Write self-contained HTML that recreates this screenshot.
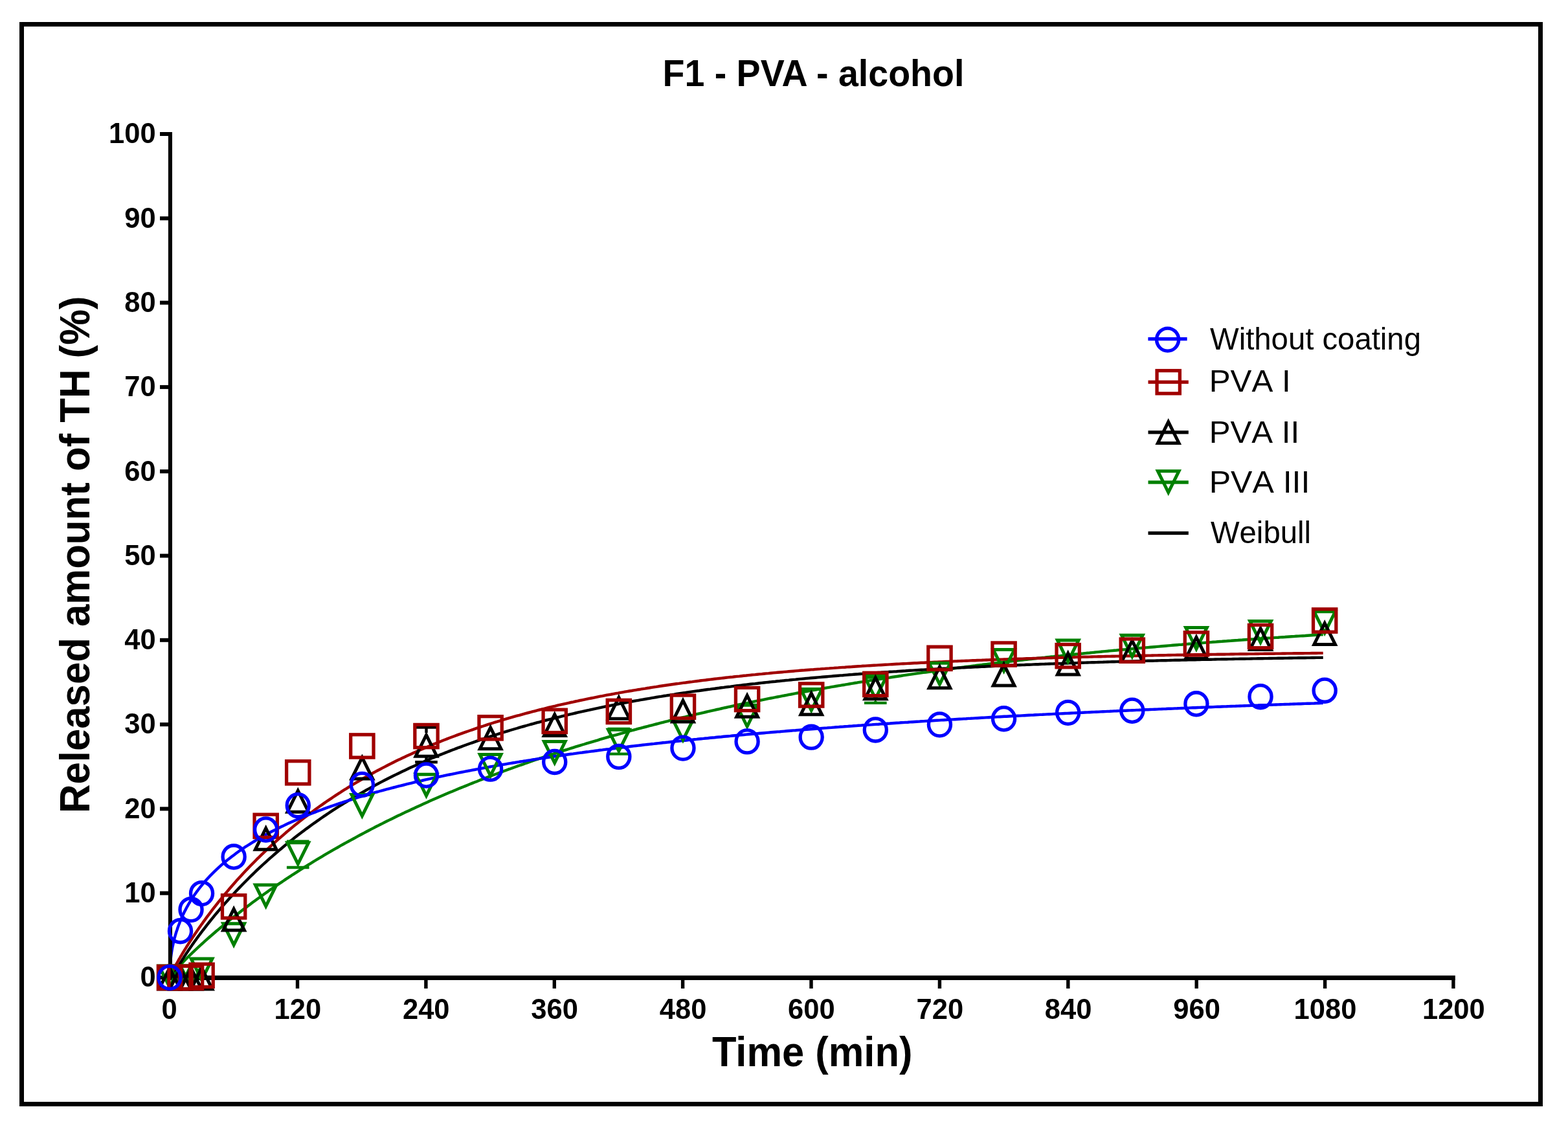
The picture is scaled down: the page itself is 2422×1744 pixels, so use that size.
<!DOCTYPE html>
<html lang="en"><head><meta charset="utf-8"><title>F1 - PVA - alcohol</title>
<style>html,body{margin:0;padding:0;background:#fff;width:2422px;height:1744px;overflow:hidden}svg{display:block}text{font-family:"Liberation Sans",Arial,sans-serif;fill:#000}</style></head><body>
<svg width="2422" height="1744" viewBox="0 0 2422 1744">
<rect width="2422" height="1744" fill="#fff"/>
<rect x="33.5" y="37.5" width="2346" height="1668" fill="none" stroke="#000" stroke-width="7"/>
<g id="curves">
<polyline points="262.0,1510.0 262.4,1509.3 262.8,1508.7 263.2,1508.2 263.7,1507.6 264.1,1507.1 264.5,1506.5 264.9,1506.0 265.3,1505.5 265.7,1505.0 266.1,1504.5 266.5,1504.0 267.0,1503.5 267.4,1503.0 267.8,1502.5 268.2,1502.0 268.6,1501.5 269.0,1501.0 269.4,1500.6 269.8,1500.1 270.3,1499.6 270.7,1499.1 271.1,1498.7 271.5,1498.2 271.9,1497.7 272.3,1497.3 272.7,1496.8 273.2,1496.4 273.6,1495.9 274.0,1495.5 274.4,1495.0 274.8,1494.6 275.2,1494.1 275.6,1493.7 276.0,1493.2 276.5,1492.8 276.9,1492.3 277.3,1491.9 277.7,1491.4 278.1,1491.0 278.5,1490.6 278.9,1490.1 279.3,1489.7 279.8,1489.2 280.2,1488.8 280.6,1488.4 281.0,1487.9 281.4,1487.5 281.8,1487.1 282.2,1486.7 282.6,1486.2 283.1,1485.8 283.5,1485.4 283.9,1485.0 284.3,1484.5 284.7,1484.1 285.1,1483.7 285.5,1483.3 286.0,1482.8 286.4,1482.4 286.8,1482.0 287.2,1481.6 287.6,1481.2 288.0,1480.8 288.4,1480.4 288.8,1479.9 289.3,1479.5 289.7,1479.1 290.1,1478.7 290.5,1478.3 290.9,1477.9 291.3,1477.5 291.7,1477.1 292.1,1476.7 292.6,1476.3 293.0,1475.9 293.4,1475.4 293.8,1475.0 294.2,1474.6 294.6,1474.2 295.0,1473.8 295.5,1473.4 295.9,1473.0 296.3,1472.6 296.7,1472.2 297.1,1471.8 297.5,1471.4 297.9,1471.0 298.3,1470.7 298.8,1470.3 299.2,1469.9 299.6,1469.5 300.0,1469.1 300.4,1468.7 300.8,1468.3 301.2,1467.9 301.6,1467.5 302.1,1467.1 302.5,1466.7 302.9,1466.3 303.3,1466.0 303.7,1465.6 304.1,1465.2 304.5,1464.8 305.0,1464.4 305.4,1464.0 305.8,1463.6 306.2,1463.3 306.6,1462.9 307.0,1462.5 307.4,1462.1 307.8,1461.7 308.3,1461.3 308.7,1461.0 309.1,1460.6 309.5,1460.2 309.9,1459.8 310.3,1459.4 310.7,1459.1 311.1,1458.7 311.6,1458.3 313.2,1456.8 316.7,1453.7 320.1,1450.6 323.6,1447.5 327.1,1444.5 330.6,1441.5 334.0,1438.5 337.5,1435.6 341.0,1432.7 344.4,1429.8 347.9,1427.0 351.4,1424.1 354.8,1421.3 358.3,1418.6 361.8,1415.8 365.2,1413.1 368.7,1410.4 372.2,1407.7 375.6,1405.0 379.1,1402.4 382.6,1399.8 386.0,1397.2 389.5,1394.6 393.0,1392.0 396.4,1389.5 399.9,1387.0 403.4,1384.5 406.8,1382.0 410.3,1379.5 413.8,1377.1 417.2,1374.6 420.7,1372.2 424.2,1369.8 427.7,1367.5 431.1,1365.1 434.6,1362.8 438.1,1360.5 441.5,1358.1 445.0,1355.9 448.5,1353.6 451.9,1351.3 455.4,1349.1 458.9,1346.8 462.3,1344.6 465.8,1342.4 469.3,1340.2 472.7,1338.1 476.2,1335.9 479.7,1333.8 483.1,1331.7 486.6,1329.5 490.1,1327.4 493.5,1325.4 497.0,1323.3 500.5,1321.2 503.9,1319.2 507.4,1317.2 510.9,1315.1 514.3,1313.1 517.8,1311.1 521.3,1309.2 524.8,1307.2 528.2,1305.2 531.7,1303.3 535.2,1301.4 538.6,1299.5 542.1,1297.6 545.6,1295.7 549.0,1293.8 552.5,1291.9 556.0,1290.0 559.4,1288.2 562.9,1286.4 566.4,1284.5 569.8,1282.7 573.3,1280.9 576.8,1279.1 580.2,1277.3 583.7,1275.6 587.2,1273.8 590.6,1272.1 594.1,1270.3 597.6,1268.6 601.0,1266.9 604.5,1265.2 608.0,1263.5 611.4,1261.8 614.9,1260.1 618.4,1258.5 621.9,1256.8 625.3,1255.1 628.8,1253.5 632.3,1251.9 635.7,1250.3 639.2,1248.7 642.7,1247.1 646.1,1245.5 649.6,1243.9 653.1,1242.3 656.5,1240.7 660.0,1239.2 663.5,1237.6 666.9,1236.1 670.4,1234.6 673.9,1233.1 677.3,1231.6 680.8,1230.1 684.3,1228.6 687.7,1227.1 691.2,1225.6 694.7,1224.1 698.1,1222.7 701.6,1221.2 705.1,1219.8 708.5,1218.3 712.0,1216.9 715.5,1215.5 719.0,1214.1 722.4,1212.7 725.9,1211.3 729.4,1209.9 732.8,1208.5 736.3,1207.2 739.8,1205.8 743.2,1204.4 746.7,1203.1 750.2,1201.7 753.6,1200.4 757.1,1199.1 760.6,1197.8 764.0,1196.5 767.5,1195.2 771.0,1193.9 774.4,1192.6 777.9,1191.3 781.4,1190.0 784.8,1188.7 788.3,1187.5 791.8,1186.2 795.2,1185.0 798.7,1183.7 802.2,1182.5 805.7,1181.3 809.1,1180.1 812.6,1178.8 816.1,1177.6 819.5,1176.4 823.0,1175.2 826.5,1174.0 829.9,1172.9 833.4,1171.7 836.9,1170.5 840.3,1169.4 843.8,1168.2 847.3,1167.1 850.7,1165.9 854.2,1164.8 857.7,1163.6 861.1,1162.5 864.6,1161.4 868.1,1160.3 871.5,1159.2 875.0,1158.1 878.5,1157.0 881.9,1155.9 885.4,1154.8 888.9,1153.7 892.3,1152.7 895.8,1151.6 899.3,1150.5 902.8,1149.5 906.2,1148.4 909.7,1147.4 913.2,1146.3 916.6,1145.3 920.1,1144.3 923.6,1143.3 927.0,1142.2 930.5,1141.2 934.0,1140.2 937.4,1139.2 940.9,1138.2 944.4,1137.2 947.8,1136.2 951.3,1135.3 954.8,1134.3 958.2,1133.3 961.7,1132.4 965.2,1131.4 968.6,1130.4 972.1,1129.5 975.6,1128.5 979.0,1127.6 982.5,1126.7 986.0,1125.7 989.4,1124.8 992.9,1123.9 996.4,1123.0 999.9,1122.1 1003.3,1121.2 1006.8,1120.3 1010.3,1119.4 1013.7,1118.5 1017.2,1117.6 1020.7,1116.7 1024.1,1115.8 1027.6,1114.9 1031.1,1114.1 1034.5,1113.2 1038.0,1112.3 1041.5,1111.5 1044.9,1110.6 1048.4,1109.8 1051.9,1108.9 1055.3,1108.1 1058.8,1107.3 1062.3,1106.4 1065.7,1105.6 1069.2,1104.8 1072.7,1104.0 1076.1,1103.2 1079.6,1102.4 1083.1,1101.6 1086.5,1100.8 1090.0,1100.0 1093.5,1099.2 1097.0,1098.4 1100.4,1097.6 1103.9,1096.8 1107.4,1096.0 1110.8,1095.3 1114.3,1094.5 1117.8,1093.7 1121.2,1093.0 1124.7,1092.2 1128.2,1091.5 1131.6,1090.7 1135.1,1090.0 1138.6,1089.2 1142.0,1088.5 1145.5,1087.7 1149.0,1087.0 1152.4,1086.3 1155.9,1085.6 1159.4,1084.8 1162.8,1084.1 1166.3,1083.4 1169.8,1082.7 1173.2,1082.0 1176.7,1081.3 1180.2,1080.6 1183.6,1079.9 1187.1,1079.2 1190.6,1078.5 1194.1,1077.8 1197.5,1077.2 1201.0,1076.5 1204.5,1075.8 1207.9,1075.1 1211.4,1074.5 1214.9,1073.8 1218.3,1073.1 1221.8,1072.5 1225.3,1071.8 1228.7,1071.2 1232.2,1070.5 1235.7,1069.9 1239.1,1069.2 1242.6,1068.6 1246.1,1068.0 1249.5,1067.3 1253.0,1066.7 1256.5,1066.1 1259.9,1065.5 1263.4,1064.8 1266.9,1064.2 1270.3,1063.6 1273.8,1063.0 1277.3,1062.4 1280.7,1061.8 1284.2,1061.2 1287.7,1060.6 1291.2,1060.0 1294.6,1059.4 1298.1,1058.8 1301.6,1058.2 1305.0,1057.7 1308.5,1057.1 1312.0,1056.5 1315.4,1055.9 1318.9,1055.3 1322.4,1054.8 1325.8,1054.2 1329.3,1053.6 1332.8,1053.1 1336.2,1052.5 1339.7,1052.0 1343.2,1051.4 1346.6,1050.9 1350.1,1050.3 1353.6,1049.8 1357.0,1049.2 1360.5,1048.7 1364.0,1048.2 1367.4,1047.6 1370.9,1047.1 1374.4,1046.6 1377.8,1046.0 1381.3,1045.5 1384.8,1045.0 1388.3,1044.5 1391.7,1044.0 1395.2,1043.4 1398.7,1042.9 1402.1,1042.4 1405.6,1041.9 1409.1,1041.4 1412.5,1040.9 1416.0,1040.4 1419.5,1039.9 1422.9,1039.4 1426.4,1038.9 1429.9,1038.5 1433.3,1038.0 1436.8,1037.5 1440.3,1037.0 1443.7,1036.5 1447.2,1036.0 1450.7,1035.6 1454.1,1035.1 1457.6,1034.6 1461.1,1034.2 1464.5,1033.7 1468.0,1033.2 1471.5,1032.8 1475.0,1032.3 1478.4,1031.9 1481.9,1031.4 1485.4,1030.9 1488.8,1030.5 1492.3,1030.0 1495.8,1029.6 1499.2,1029.2 1502.7,1028.7 1506.2,1028.3 1509.6,1027.8 1513.1,1027.4 1516.6,1027.0 1520.0,1026.5 1523.5,1026.1 1527.0,1025.7 1530.4,1025.3 1533.9,1024.8 1537.4,1024.4 1540.8,1024.0 1544.3,1023.6 1547.8,1023.2 1551.2,1022.8 1554.7,1022.3 1558.2,1021.9 1561.6,1021.5 1565.1,1021.1 1568.6,1020.7 1572.1,1020.3 1575.5,1019.9 1579.0,1019.5 1582.5,1019.1 1585.9,1018.7 1589.4,1018.3 1592.9,1018.0 1596.3,1017.6 1599.8,1017.2 1603.3,1016.8 1606.7,1016.4 1610.2,1016.0 1613.7,1015.7 1617.1,1015.3 1620.6,1014.9 1624.1,1014.5 1627.5,1014.2 1631.0,1013.8 1634.5,1013.4 1637.9,1013.1 1641.4,1012.7 1644.9,1012.3 1648.3,1012.0 1651.8,1011.6 1655.3,1011.3 1658.7,1010.9 1662.2,1010.5 1665.7,1010.2 1669.2,1009.8 1672.6,1009.5 1676.1,1009.1 1679.6,1008.8 1683.0,1008.5 1686.5,1008.1 1690.0,1007.8 1693.4,1007.4 1696.9,1007.1 1700.4,1006.8 1703.8,1006.4 1707.3,1006.1 1710.8,1005.8 1714.2,1005.4 1717.7,1005.1 1721.2,1004.8 1724.6,1004.5 1728.1,1004.1 1731.6,1003.8 1735.0,1003.5 1738.5,1003.2 1742.0,1002.8 1745.4,1002.5 1748.9,1002.2 1752.4,1001.9 1755.8,1001.6 1759.3,1001.3 1762.8,1001.0 1766.3,1000.7 1769.7,1000.4 1773.2,1000.1 1776.7,999.8 1780.1,999.5 1783.6,999.2 1787.1,998.9 1790.5,998.6 1794.0,998.3 1797.5,998.0 1800.9,997.7 1804.4,997.4 1807.9,997.1 1811.3,996.8 1814.8,996.5 1818.3,996.2 1821.7,995.9 1825.2,995.7 1828.7,995.4 1832.1,995.1 1835.6,994.8 1839.1,994.5 1842.5,994.3 1846.0,994.0 1849.5,993.7 1852.9,993.4 1856.4,993.2 1859.9,992.9 1863.4,992.6 1866.8,992.4 1870.3,992.1 1873.8,991.8 1877.2,991.6 1880.7,991.3 1884.2,991.0 1887.6,990.8 1891.1,990.5 1894.6,990.3 1898.0,990.0 1901.5,989.8 1905.0,989.5 1908.4,989.2 1911.9,989.0 1915.4,988.7 1918.8,988.5 1922.3,988.2 1925.8,988.0 1929.2,987.8 1932.7,987.5 1936.2,987.3 1939.6,987.0 1943.1,986.8 1946.6,986.5 1950.0,986.3 1953.5,986.1 1957.0,985.8 1960.5,985.6 1963.9,985.4 1967.4,985.1 1970.9,984.9 1974.3,984.7 1977.8,984.4 1981.3,984.2 1984.7,984.0 1988.2,983.7 1991.7,983.5 1995.1,983.3 1998.6,983.1 2002.1,982.8 2005.5,982.6 2009.0,982.4 2012.5,982.2 2015.9,982.0 2019.4,981.7 2022.9,981.5 2026.3,981.3 2029.8,981.1 2033.3,980.9 2036.7,980.7 2040.2,980.4 2043.7,980.2" fill="none" stroke="#008000" stroke-width="4.4" stroke-linejoin="round"/>
<polyline points="262.0,1510.0 262.4,1510.0 262.8,1510.0 263.2,1510.0 263.7,1510.0 264.1,1510.0 264.5,1510.0 264.9,1510.0 265.3,1510.0 265.7,1510.0 266.1,1509.7 266.5,1508.8 267.0,1507.9 267.4,1507.1 267.8,1506.3 268.2,1505.5 268.6,1504.7 269.0,1503.9 269.4,1503.1 269.8,1502.3 270.3,1501.6 270.7,1500.8 271.1,1500.1 271.5,1499.4 271.9,1498.6 272.3,1497.9 272.7,1497.2 273.2,1496.5 273.6,1495.8 274.0,1495.0 274.4,1494.3 274.8,1493.6 275.2,1492.9 275.6,1492.3 276.0,1491.6 276.5,1490.9 276.9,1490.2 277.3,1489.5 277.7,1488.8 278.1,1488.2 278.5,1487.5 278.9,1486.8 279.3,1486.1 279.8,1485.5 280.2,1484.8 280.6,1484.2 281.0,1483.5 281.4,1482.8 281.8,1482.2 282.2,1481.5 282.6,1480.9 283.1,1480.2 283.5,1479.6 283.9,1479.0 284.3,1478.3 284.7,1477.7 285.1,1477.0 285.5,1476.4 286.0,1475.8 286.4,1475.1 286.8,1474.5 287.2,1473.9 287.6,1473.3 288.0,1472.6 288.4,1472.0 288.8,1471.4 289.3,1470.8 289.7,1470.2 290.1,1469.5 290.5,1468.9 290.9,1468.3 291.3,1467.7 291.7,1467.1 292.1,1466.5 292.6,1465.9 293.0,1465.3 293.4,1464.7 293.8,1464.1 294.2,1463.5 294.6,1462.9 295.0,1462.3 295.5,1461.7 295.9,1461.1 296.3,1460.5 296.7,1459.9 297.1,1459.3 297.5,1458.7 297.9,1458.2 298.3,1457.6 298.8,1457.0 299.2,1456.4 299.6,1455.8 300.0,1455.2 300.4,1454.7 300.8,1454.1 301.2,1453.5 301.6,1452.9 302.1,1452.4 302.5,1451.8 302.9,1451.2 303.3,1450.6 303.7,1450.1 304.1,1449.5 304.5,1448.9 305.0,1448.4 305.4,1447.8 305.8,1447.2 306.2,1446.7 306.6,1446.1 307.0,1445.6 307.4,1445.0 307.8,1444.5 308.3,1443.9 308.7,1443.3 309.1,1442.8 309.5,1442.2 309.9,1441.7 310.3,1441.1 310.7,1440.6 311.1,1440.0 311.6,1439.5 313.2,1437.3 316.7,1432.8 320.1,1428.3 323.6,1424.0 327.1,1419.7 330.6,1415.4 334.0,1411.2 337.5,1407.1 341.0,1403.0 344.4,1399.0 347.9,1395.1 351.4,1391.2 354.8,1387.3 358.3,1383.5 361.8,1379.8 365.2,1376.0 368.7,1372.4 372.2,1368.8 375.6,1365.2 379.1,1361.7 382.6,1358.2 386.0,1354.8 389.5,1351.4 393.0,1348.0 396.4,1344.7 399.9,1341.4 403.4,1338.2 406.8,1335.0 410.3,1331.8 413.8,1328.7 417.2,1325.6 420.7,1322.6 424.2,1319.5 427.7,1316.5 431.1,1313.6 434.6,1310.7 438.1,1307.8 441.5,1304.9 445.0,1302.1 448.5,1299.3 451.9,1296.6 455.4,1293.8 458.9,1291.1 462.3,1288.5 465.8,1285.8 469.3,1283.2 472.7,1280.6 476.2,1278.1 479.7,1275.5 483.1,1273.0 486.6,1270.6 490.1,1268.1 493.5,1265.7 497.0,1263.3 500.5,1260.9 503.9,1258.6 507.4,1256.2 510.9,1253.9 514.3,1251.7 517.8,1249.4 521.3,1247.2 524.8,1245.0 528.2,1242.8 531.7,1240.6 535.2,1238.5 538.6,1236.4 542.1,1234.3 545.6,1232.2 549.0,1230.2 552.5,1228.1 556.0,1226.1 559.4,1224.1 562.9,1222.2 566.4,1220.2 569.8,1218.3 573.3,1216.4 576.8,1214.5 580.2,1212.6 583.7,1210.7 587.2,1208.9 590.6,1207.1 594.1,1205.3 597.6,1203.5 601.0,1201.7 604.5,1200.0 608.0,1198.3 611.4,1196.6 614.9,1194.9 618.4,1193.2 621.9,1191.5 625.3,1189.9 628.8,1188.3 632.3,1186.6 635.7,1185.0 639.2,1183.5 642.7,1181.9 646.1,1180.3 649.6,1178.8 653.1,1177.3 656.5,1175.8 660.0,1174.3 663.5,1172.8 666.9,1171.3 670.4,1169.9 673.9,1168.5 677.3,1167.0 680.8,1165.6 684.3,1164.2 687.7,1162.9 691.2,1161.5 694.7,1160.1 698.1,1158.8 701.6,1157.5 705.1,1156.1 708.5,1154.8 712.0,1153.6 715.5,1152.3 719.0,1151.0 722.4,1149.8 725.9,1148.5 729.4,1147.3 732.8,1146.1 736.3,1144.9 739.8,1143.7 743.2,1142.5 746.7,1141.3 750.2,1140.1 753.6,1139.0 757.1,1137.8 760.6,1136.7 764.0,1135.6 767.5,1134.5 771.0,1133.4 774.4,1132.3 777.9,1131.2 781.4,1130.2 784.8,1129.1 788.3,1128.0 791.8,1127.0 795.2,1126.0 798.7,1125.0 802.2,1123.9 805.7,1122.9 809.1,1122.0 812.6,1121.0 816.1,1120.0 819.5,1119.0 823.0,1118.1 826.5,1117.1 829.9,1116.2 833.4,1115.3 836.9,1114.3 840.3,1113.4 843.8,1112.5 847.3,1111.6 850.7,1110.8 854.2,1109.9 857.7,1109.0 861.1,1108.1 864.6,1107.3 868.1,1106.4 871.5,1105.6 875.0,1104.8 878.5,1103.9 881.9,1103.1 885.4,1102.3 888.9,1101.5 892.3,1100.7 895.8,1099.9 899.3,1099.2 902.8,1098.4 906.2,1097.6 909.7,1096.9 913.2,1096.1 916.6,1095.4 920.1,1094.6 923.6,1093.9 927.0,1093.2 930.5,1092.4 934.0,1091.7 937.4,1091.0 940.9,1090.3 944.4,1089.6 947.8,1089.0 951.3,1088.3 954.8,1087.6 958.2,1086.9 961.7,1086.3 965.2,1085.6 968.6,1085.0 972.1,1084.3 975.6,1083.7 979.0,1083.0 982.5,1082.4 986.0,1081.8 989.4,1081.2 992.9,1080.6 996.4,1080.0 999.9,1079.4 1003.3,1078.8 1006.8,1078.2 1010.3,1077.6 1013.7,1077.0 1017.2,1076.4 1020.7,1075.9 1024.1,1075.3 1027.6,1074.8 1031.1,1074.2 1034.5,1073.7 1038.0,1073.1 1041.5,1072.6 1044.9,1072.0 1048.4,1071.5 1051.9,1071.0 1055.3,1070.5 1058.8,1070.0 1062.3,1069.4 1065.7,1068.9 1069.2,1068.4 1072.7,1067.9 1076.1,1067.4 1079.6,1067.0 1083.1,1066.5 1086.5,1066.0 1090.0,1065.5 1093.5,1065.0 1097.0,1064.6 1100.4,1064.1 1103.9,1063.7 1107.4,1063.2 1110.8,1062.8 1114.3,1062.3 1117.8,1061.9 1121.2,1061.4 1124.7,1061.0 1128.2,1060.6 1131.6,1060.1 1135.1,1059.7 1138.6,1059.3 1142.0,1058.9 1145.5,1058.5 1149.0,1058.0 1152.4,1057.6 1155.9,1057.2 1159.4,1056.8 1162.8,1056.4 1166.3,1056.1 1169.8,1055.7 1173.2,1055.3 1176.7,1054.9 1180.2,1054.5 1183.6,1054.1 1187.1,1053.8 1190.6,1053.4 1194.1,1053.0 1197.5,1052.7 1201.0,1052.3 1204.5,1052.0 1207.9,1051.6 1211.4,1051.3 1214.9,1050.9 1218.3,1050.6 1221.8,1050.2 1225.3,1049.9 1228.7,1049.6 1232.2,1049.2 1235.7,1048.9 1239.1,1048.6 1242.6,1048.3 1246.1,1047.9 1249.5,1047.6 1253.0,1047.3 1256.5,1047.0 1259.9,1046.7 1263.4,1046.4 1266.9,1046.1 1270.3,1045.8 1273.8,1045.5 1277.3,1045.2 1280.7,1044.9 1284.2,1044.6 1287.7,1044.3 1291.2,1044.0 1294.6,1043.7 1298.1,1043.4 1301.6,1043.2 1305.0,1042.9 1308.5,1042.6 1312.0,1042.3 1315.4,1042.1 1318.9,1041.8 1322.4,1041.5 1325.8,1041.3 1329.3,1041.0 1332.8,1040.8 1336.2,1040.5 1339.7,1040.3 1343.2,1040.0 1346.6,1039.8 1350.1,1039.5 1353.6,1039.3 1357.0,1039.0 1360.5,1038.8 1364.0,1038.5 1367.4,1038.3 1370.9,1038.1 1374.4,1037.8 1377.8,1037.6 1381.3,1037.4 1384.8,1037.2 1388.3,1036.9 1391.7,1036.7 1395.2,1036.5 1398.7,1036.3 1402.1,1036.0 1405.6,1035.8 1409.1,1035.6 1412.5,1035.4 1416.0,1035.2 1419.5,1035.0 1422.9,1034.8 1426.4,1034.6 1429.9,1034.4 1433.3,1034.2 1436.8,1034.0 1440.3,1033.8 1443.7,1033.6 1447.2,1033.4 1450.7,1033.2 1454.1,1033.0 1457.6,1032.8 1461.1,1032.6 1464.5,1032.4 1468.0,1032.3 1471.5,1032.1 1475.0,1031.9 1478.4,1031.7 1481.9,1031.5 1485.4,1031.4 1488.8,1031.2 1492.3,1031.0 1495.8,1030.8 1499.2,1030.7 1502.7,1030.5 1506.2,1030.3 1509.6,1030.2 1513.1,1030.0 1516.6,1029.8 1520.0,1029.7 1523.5,1029.5 1527.0,1029.3 1530.4,1029.2 1533.9,1029.0 1537.4,1028.9 1540.8,1028.7 1544.3,1028.6 1547.8,1028.4 1551.2,1028.3 1554.7,1028.1 1558.2,1028.0 1561.6,1027.8 1565.1,1027.7 1568.6,1027.5 1572.1,1027.4 1575.5,1027.2 1579.0,1027.1 1582.5,1027.0 1585.9,1026.8 1589.4,1026.7 1592.9,1026.6 1596.3,1026.4 1599.8,1026.3 1603.3,1026.2 1606.7,1026.0 1610.2,1025.9 1613.7,1025.8 1617.1,1025.6 1620.6,1025.5 1624.1,1025.4 1627.5,1025.3 1631.0,1025.1 1634.5,1025.0 1637.9,1024.9 1641.4,1024.8 1644.9,1024.6 1648.3,1024.5 1651.8,1024.4 1655.3,1024.3 1658.7,1024.2 1662.2,1024.1 1665.7,1023.9 1669.2,1023.8 1672.6,1023.7 1676.1,1023.6 1679.6,1023.5 1683.0,1023.4 1686.5,1023.3 1690.0,1023.2 1693.4,1023.1 1696.9,1023.0 1700.4,1022.9 1703.8,1022.8 1707.3,1022.6 1710.8,1022.5 1714.2,1022.4 1717.7,1022.3 1721.2,1022.2 1724.6,1022.1 1728.1,1022.0 1731.6,1022.0 1735.0,1021.9 1738.5,1021.8 1742.0,1021.7 1745.4,1021.6 1748.9,1021.5 1752.4,1021.4 1755.8,1021.3 1759.3,1021.2 1762.8,1021.1 1766.3,1021.0 1769.7,1020.9 1773.2,1020.8 1776.7,1020.8 1780.1,1020.7 1783.6,1020.6 1787.1,1020.5 1790.5,1020.4 1794.0,1020.3 1797.5,1020.2 1800.9,1020.2 1804.4,1020.1 1807.9,1020.0 1811.3,1019.9 1814.8,1019.8 1818.3,1019.8 1821.7,1019.7 1825.2,1019.6 1828.7,1019.5 1832.1,1019.5 1835.6,1019.4 1839.1,1019.3 1842.5,1019.2 1846.0,1019.2 1849.5,1019.1 1852.9,1019.0 1856.4,1018.9 1859.9,1018.9 1863.4,1018.8 1866.8,1018.7 1870.3,1018.7 1873.8,1018.6 1877.2,1018.5 1880.7,1018.4 1884.2,1018.4 1887.6,1018.3 1891.1,1018.2 1894.6,1018.2 1898.0,1018.1 1901.5,1018.1 1905.0,1018.0 1908.4,1017.9 1911.9,1017.9 1915.4,1017.8 1918.8,1017.7 1922.3,1017.7 1925.8,1017.6 1929.2,1017.6 1932.7,1017.5 1936.2,1017.4 1939.6,1017.4 1943.1,1017.3 1946.6,1017.3 1950.0,1017.2 1953.5,1017.1 1957.0,1017.1 1960.5,1017.0 1963.9,1017.0 1967.4,1016.9 1970.9,1016.9 1974.3,1016.8 1977.8,1016.8 1981.3,1016.7 1984.7,1016.6 1988.2,1016.6 1991.7,1016.5 1995.1,1016.5 1998.6,1016.4 2002.1,1016.4 2005.5,1016.3 2009.0,1016.3 2012.5,1016.2 2015.9,1016.2 2019.4,1016.1 2022.9,1016.1 2026.3,1016.0 2029.8,1016.0 2033.3,1015.9 2036.7,1015.9 2040.2,1015.9 2043.7,1015.8" fill="none" stroke="#000000" stroke-width="4.4" stroke-linejoin="round"/>
<polyline points="262.0,1510.0 262.4,1508.9 262.8,1508.0 263.2,1507.1 263.7,1506.2 264.1,1505.3 264.5,1504.4 264.9,1503.6 265.3,1502.7 265.7,1501.9 266.1,1501.1 266.5,1500.3 267.0,1499.5 267.4,1498.7 267.8,1497.9 268.2,1497.1 268.6,1496.3 269.0,1495.5 269.4,1494.7 269.8,1494.0 270.3,1493.2 270.7,1492.4 271.1,1491.7 271.5,1490.9 271.9,1490.2 272.3,1489.4 272.7,1488.7 273.2,1487.9 273.6,1487.2 274.0,1486.5 274.4,1485.7 274.8,1485.0 275.2,1484.3 275.6,1483.5 276.0,1482.8 276.5,1482.1 276.9,1481.4 277.3,1480.7 277.7,1480.0 278.1,1479.3 278.5,1478.5 278.9,1477.8 279.3,1477.1 279.8,1476.4 280.2,1475.7 280.6,1475.1 281.0,1474.4 281.4,1473.7 281.8,1473.0 282.2,1472.3 282.6,1471.6 283.1,1470.9 283.5,1470.2 283.9,1469.6 284.3,1468.9 284.7,1468.2 285.1,1467.5 285.5,1466.9 286.0,1466.2 286.4,1465.5 286.8,1464.9 287.2,1464.2 287.6,1463.6 288.0,1462.9 288.4,1462.2 288.8,1461.6 289.3,1460.9 289.7,1460.3 290.1,1459.6 290.5,1459.0 290.9,1458.3 291.3,1457.7 291.7,1457.0 292.1,1456.4 292.6,1455.7 293.0,1455.1 293.4,1454.5 293.8,1453.8 294.2,1453.2 294.6,1452.6 295.0,1451.9 295.5,1451.3 295.9,1450.7 296.3,1450.0 296.7,1449.4 297.1,1448.8 297.5,1448.2 297.9,1447.5 298.3,1446.9 298.8,1446.3 299.2,1445.7 299.6,1445.1 300.0,1444.5 300.4,1443.8 300.8,1443.2 301.2,1442.6 301.6,1442.0 302.1,1441.4 302.5,1440.8 302.9,1440.2 303.3,1439.6 303.7,1439.0 304.1,1438.4 304.5,1437.8 305.0,1437.2 305.4,1436.6 305.8,1436.0 306.2,1435.4 306.6,1434.8 307.0,1434.2 307.4,1433.6 307.8,1433.0 308.3,1432.4 308.7,1431.8 309.1,1431.2 309.5,1430.7 309.9,1430.1 310.3,1429.5 310.7,1428.9 311.1,1428.3 311.6,1427.7 313.2,1425.4 316.7,1420.6 320.1,1415.9 323.6,1411.3 327.1,1406.7 330.6,1402.2 334.0,1397.8 337.5,1393.4 341.0,1389.1 344.4,1384.9 347.9,1380.7 351.4,1376.6 354.8,1372.5 358.3,1368.5 361.8,1364.5 365.2,1360.6 368.7,1356.8 372.2,1353.0 375.6,1349.2 379.1,1345.5 382.6,1341.9 386.0,1338.3 389.5,1334.7 393.0,1331.2 396.4,1327.7 399.9,1324.3 403.4,1320.9 406.8,1317.6 410.3,1314.3 413.8,1311.0 417.2,1307.8 420.7,1304.6 424.2,1301.5 427.7,1298.4 431.1,1295.3 434.6,1292.3 438.1,1289.3 441.5,1286.3 445.0,1283.4 448.5,1280.5 451.9,1277.6 455.4,1274.8 458.9,1272.0 462.3,1269.2 465.8,1266.5 469.3,1263.8 472.7,1261.2 476.2,1258.5 479.7,1255.9 483.1,1253.4 486.6,1250.8 490.1,1248.3 493.5,1245.8 497.0,1243.4 500.5,1240.9 503.9,1238.5 507.4,1236.1 510.9,1233.8 514.3,1231.5 517.8,1229.2 521.3,1226.9 524.8,1224.7 528.2,1222.4 531.7,1220.2 535.2,1218.1 538.6,1215.9 542.1,1213.8 545.6,1211.7 549.0,1209.6 552.5,1207.6 556.0,1205.5 559.4,1203.5 562.9,1201.5 566.4,1199.6 569.8,1197.6 573.3,1195.7 576.8,1193.8 580.2,1191.9 583.7,1190.0 587.2,1188.2 590.6,1186.4 594.1,1184.6 597.6,1182.8 601.0,1181.0 604.5,1179.3 608.0,1177.5 611.4,1175.8 614.9,1174.1 618.4,1172.5 621.9,1170.8 625.3,1169.2 628.8,1167.6 632.3,1166.0 635.7,1164.4 639.2,1162.8 642.7,1161.2 646.1,1159.7 649.6,1158.2 653.1,1156.7 656.5,1155.2 660.0,1153.7 663.5,1152.3 666.9,1150.8 670.4,1149.4 673.9,1148.0 677.3,1146.6 680.8,1145.2 684.3,1143.8 687.7,1142.5 691.2,1141.1 694.7,1139.8 698.1,1138.5 701.6,1137.2 705.1,1135.9 708.5,1134.6 712.0,1133.4 715.5,1132.1 719.0,1130.9 722.4,1129.7 725.9,1128.5 729.4,1127.3 732.8,1126.1 736.3,1124.9 739.8,1123.7 743.2,1122.6 746.7,1121.5 750.2,1120.3 753.6,1119.2 757.1,1118.1 760.6,1117.0 764.0,1115.9 767.5,1114.9 771.0,1113.8 774.4,1112.8 777.9,1111.7 781.4,1110.7 784.8,1109.7 788.3,1108.7 791.8,1107.7 795.2,1106.7 798.7,1105.7 802.2,1104.8 805.7,1103.8 809.1,1102.9 812.6,1101.9 816.1,1101.0 819.5,1100.1 823.0,1099.2 826.5,1098.3 829.9,1097.4 833.4,1096.5 836.9,1095.6 840.3,1094.8 843.8,1093.9 847.3,1093.0 850.7,1092.2 854.2,1091.4 857.7,1090.6 861.1,1089.7 864.6,1088.9 868.1,1088.1 871.5,1087.4 875.0,1086.6 878.5,1085.8 881.9,1085.0 885.4,1084.3 888.9,1083.5 892.3,1082.8 895.8,1082.0 899.3,1081.3 902.8,1080.6 906.2,1079.9 909.7,1079.2 913.2,1078.5 916.6,1077.8 920.1,1077.1 923.6,1076.4 927.0,1075.7 930.5,1075.1 934.0,1074.4 937.4,1073.7 940.9,1073.1 944.4,1072.5 947.8,1071.8 951.3,1071.2 954.8,1070.6 958.2,1069.9 961.7,1069.3 965.2,1068.7 968.6,1068.1 972.1,1067.5 975.6,1067.0 979.0,1066.4 982.5,1065.8 986.0,1065.2 989.4,1064.7 992.9,1064.1 996.4,1063.6 999.9,1063.0 1003.3,1062.5 1006.8,1061.9 1010.3,1061.4 1013.7,1060.9 1017.2,1060.3 1020.7,1059.8 1024.1,1059.3 1027.6,1058.8 1031.1,1058.3 1034.5,1057.8 1038.0,1057.3 1041.5,1056.8 1044.9,1056.3 1048.4,1055.9 1051.9,1055.4 1055.3,1054.9 1058.8,1054.5 1062.3,1054.0 1065.7,1053.5 1069.2,1053.1 1072.7,1052.6 1076.1,1052.2 1079.6,1051.8 1083.1,1051.3 1086.5,1050.9 1090.0,1050.5 1093.5,1050.0 1097.0,1049.6 1100.4,1049.2 1103.9,1048.8 1107.4,1048.4 1110.8,1048.0 1114.3,1047.6 1117.8,1047.2 1121.2,1046.8 1124.7,1046.4 1128.2,1046.0 1131.6,1045.7 1135.1,1045.3 1138.6,1044.9 1142.0,1044.6 1145.5,1044.2 1149.0,1043.8 1152.4,1043.5 1155.9,1043.1 1159.4,1042.8 1162.8,1042.4 1166.3,1042.1 1169.8,1041.7 1173.2,1041.4 1176.7,1041.1 1180.2,1040.7 1183.6,1040.4 1187.1,1040.1 1190.6,1039.7 1194.1,1039.4 1197.5,1039.1 1201.0,1038.8 1204.5,1038.5 1207.9,1038.2 1211.4,1037.9 1214.9,1037.6 1218.3,1037.3 1221.8,1037.0 1225.3,1036.7 1228.7,1036.4 1232.2,1036.1 1235.7,1035.8 1239.1,1035.5 1242.6,1035.3 1246.1,1035.0 1249.5,1034.7 1253.0,1034.4 1256.5,1034.2 1259.9,1033.9 1263.4,1033.6 1266.9,1033.4 1270.3,1033.1 1273.8,1032.9 1277.3,1032.6 1280.7,1032.4 1284.2,1032.1 1287.7,1031.9 1291.2,1031.6 1294.6,1031.4 1298.1,1031.1 1301.6,1030.9 1305.0,1030.7 1308.5,1030.4 1312.0,1030.2 1315.4,1030.0 1318.9,1029.7 1322.4,1029.5 1325.8,1029.3 1329.3,1029.1 1332.8,1028.8 1336.2,1028.6 1339.7,1028.4 1343.2,1028.2 1346.6,1028.0 1350.1,1027.8 1353.6,1027.6 1357.0,1027.4 1360.5,1027.2 1364.0,1027.0 1367.4,1026.8 1370.9,1026.6 1374.4,1026.4 1377.8,1026.2 1381.3,1026.0 1384.8,1025.8 1388.3,1025.6 1391.7,1025.4 1395.2,1025.2 1398.7,1025.1 1402.1,1024.9 1405.6,1024.7 1409.1,1024.5 1412.5,1024.3 1416.0,1024.2 1419.5,1024.0 1422.9,1023.8 1426.4,1023.7 1429.9,1023.5 1433.3,1023.3 1436.8,1023.2 1440.3,1023.0 1443.7,1022.8 1447.2,1022.7 1450.7,1022.5 1454.1,1022.4 1457.6,1022.2 1461.1,1022.0 1464.5,1021.9 1468.0,1021.7 1471.5,1021.6 1475.0,1021.4 1478.4,1021.3 1481.9,1021.1 1485.4,1021.0 1488.8,1020.9 1492.3,1020.7 1495.8,1020.6 1499.2,1020.4 1502.7,1020.3 1506.2,1020.2 1509.6,1020.0 1513.1,1019.9 1516.6,1019.8 1520.0,1019.6 1523.5,1019.5 1527.0,1019.4 1530.4,1019.2 1533.9,1019.1 1537.4,1019.0 1540.8,1018.9 1544.3,1018.7 1547.8,1018.6 1551.2,1018.5 1554.7,1018.4 1558.2,1018.2 1561.6,1018.1 1565.1,1018.0 1568.6,1017.9 1572.1,1017.8 1575.5,1017.7 1579.0,1017.6 1582.5,1017.4 1585.9,1017.3 1589.4,1017.2 1592.9,1017.1 1596.3,1017.0 1599.8,1016.9 1603.3,1016.8 1606.7,1016.7 1610.2,1016.6 1613.7,1016.5 1617.1,1016.4 1620.6,1016.3 1624.1,1016.2 1627.5,1016.1 1631.0,1016.0 1634.5,1015.9 1637.9,1015.8 1641.4,1015.7 1644.9,1015.6 1648.3,1015.5 1651.8,1015.4 1655.3,1015.3 1658.7,1015.2 1662.2,1015.1 1665.7,1015.0 1669.2,1015.0 1672.6,1014.9 1676.1,1014.8 1679.6,1014.7 1683.0,1014.6 1686.5,1014.5 1690.0,1014.4 1693.4,1014.4 1696.9,1014.3 1700.4,1014.2 1703.8,1014.1 1707.3,1014.0 1710.8,1013.9 1714.2,1013.9 1717.7,1013.8 1721.2,1013.7 1724.6,1013.6 1728.1,1013.6 1731.6,1013.5 1735.0,1013.4 1738.5,1013.3 1742.0,1013.3 1745.4,1013.2 1748.9,1013.1 1752.4,1013.0 1755.8,1013.0 1759.3,1012.9 1762.8,1012.8 1766.3,1012.8 1769.7,1012.7 1773.2,1012.6 1776.7,1012.6 1780.1,1012.5 1783.6,1012.4 1787.1,1012.4 1790.5,1012.3 1794.0,1012.2 1797.5,1012.2 1800.9,1012.1 1804.4,1012.0 1807.9,1012.0 1811.3,1011.9 1814.8,1011.9 1818.3,1011.8 1821.7,1011.7 1825.2,1011.7 1828.7,1011.6 1832.1,1011.6 1835.6,1011.5 1839.1,1011.5 1842.5,1011.4 1846.0,1011.3 1849.5,1011.3 1852.9,1011.2 1856.4,1011.2 1859.9,1011.1 1863.4,1011.1 1866.8,1011.0 1870.3,1011.0 1873.8,1010.9 1877.2,1010.9 1880.7,1010.8 1884.2,1010.8 1887.6,1010.7 1891.1,1010.7 1894.6,1010.6 1898.0,1010.6 1901.5,1010.5 1905.0,1010.5 1908.4,1010.4 1911.9,1010.4 1915.4,1010.3 1918.8,1010.3 1922.3,1010.2 1925.8,1010.2 1929.2,1010.1 1932.7,1010.1 1936.2,1010.1 1939.6,1010.0 1943.1,1010.0 1946.6,1009.9 1950.0,1009.9 1953.5,1009.8 1957.0,1009.8 1960.5,1009.8 1963.9,1009.7 1967.4,1009.7 1970.9,1009.6 1974.3,1009.6 1977.8,1009.6 1981.3,1009.5 1984.7,1009.5 1988.2,1009.4 1991.7,1009.4 1995.1,1009.4 1998.6,1009.3 2002.1,1009.3 2005.5,1009.2 2009.0,1009.2 2012.5,1009.2 2015.9,1009.1 2019.4,1009.1 2022.9,1009.1 2026.3,1009.0 2029.8,1009.0 2033.3,1009.0 2036.7,1008.9 2040.2,1008.9 2043.7,1008.9" fill="none" stroke="#a00000" stroke-width="4.4" stroke-linejoin="round"/>
<polyline points="262.0,1510.0 262.4,1495.5 262.8,1489.5 263.2,1485.0 263.7,1481.1 264.1,1477.7 264.5,1474.7 264.9,1472.0 265.3,1469.4 265.7,1467.0 266.1,1464.7 266.5,1462.6 267.0,1460.5 267.4,1458.6 267.8,1456.7 268.2,1454.9 268.6,1453.2 269.0,1451.5 269.4,1449.9 269.8,1448.3 270.3,1446.8 270.7,1445.3 271.1,1443.9 271.5,1442.5 271.9,1441.1 272.3,1439.8 272.7,1438.5 273.2,1437.2 273.6,1436.0 274.0,1434.7 274.4,1433.5 274.8,1432.3 275.2,1431.2 275.6,1430.0 276.0,1428.9 276.5,1427.8 276.9,1426.8 277.3,1425.7 277.7,1424.6 278.1,1423.6 278.5,1422.6 278.9,1421.6 279.3,1420.6 279.8,1419.6 280.2,1418.7 280.6,1417.7 281.0,1416.8 281.4,1415.9 281.8,1415.0 282.2,1414.1 282.6,1413.2 283.1,1412.3 283.5,1411.5 283.9,1410.6 284.3,1409.8 284.7,1408.9 285.1,1408.1 285.5,1407.3 286.0,1406.5 286.4,1405.7 286.8,1404.9 287.2,1404.1 287.6,1403.3 288.0,1402.6 288.4,1401.8 288.8,1401.0 289.3,1400.3 289.7,1399.6 290.1,1398.8 290.5,1398.1 290.9,1397.4 291.3,1396.7 291.7,1396.0 292.1,1395.3 292.6,1394.6 293.0,1393.9 293.4,1393.2 293.8,1392.5 294.2,1391.9 294.6,1391.2 295.0,1390.5 295.5,1389.9 295.9,1389.2 296.3,1388.6 296.7,1387.9 297.1,1387.3 297.5,1386.7 297.9,1386.0 298.3,1385.4 298.8,1384.8 299.2,1384.2 299.6,1383.6 300.0,1383.0 300.4,1382.4 300.8,1381.8 301.2,1381.2 301.6,1380.6 302.1,1380.0 302.5,1379.5 302.9,1378.9 303.3,1378.3 303.7,1377.7 304.1,1377.2 304.5,1376.6 305.0,1376.1 305.4,1375.5 305.8,1375.0 306.2,1374.4 306.6,1373.9 307.0,1373.3 307.4,1372.8 307.8,1372.3 308.3,1371.7 308.7,1371.2 309.1,1370.7 309.5,1370.2 309.9,1369.6 310.3,1369.1 310.7,1368.6 311.1,1368.1 311.6,1367.6 313.2,1365.6 316.7,1361.5 320.1,1357.7 323.6,1353.9 327.1,1350.4 330.6,1346.9 334.0,1343.6 337.5,1340.3 341.0,1337.2 344.4,1334.2 347.9,1331.3 351.4,1328.4 354.8,1325.7 358.3,1323.0 361.8,1320.4 365.2,1317.8 368.7,1315.3 372.2,1312.9 375.6,1310.5 379.1,1308.2 382.6,1306.0 386.0,1303.8 389.5,1301.6 393.0,1299.5 396.4,1297.4 399.9,1295.4 403.4,1293.4 406.8,1291.4 410.3,1289.5 413.8,1287.6 417.2,1285.8 420.7,1284.0 424.2,1282.2 427.7,1280.4 431.1,1278.7 434.6,1277.0 438.1,1275.4 441.5,1273.7 445.0,1272.1 448.5,1270.5 451.9,1269.0 455.4,1267.4 458.9,1265.9 462.3,1264.4 465.8,1263.0 469.3,1261.5 472.7,1260.1 476.2,1258.7 479.7,1257.3 483.1,1256.0 486.6,1254.6 490.1,1253.3 493.5,1252.0 497.0,1250.7 500.5,1249.4 503.9,1248.1 507.4,1246.9 510.9,1245.7 514.3,1244.5 517.8,1243.3 521.3,1242.1 524.8,1240.9 528.2,1239.8 531.7,1238.6 535.2,1237.5 538.6,1236.4 542.1,1235.3 545.6,1234.2 549.0,1233.1 552.5,1232.0 556.0,1231.0 559.4,1229.9 562.9,1228.9 566.4,1227.9 569.8,1226.9 573.3,1225.9 576.8,1224.9 580.2,1223.9 583.7,1223.0 587.2,1222.0 590.6,1221.1 594.1,1220.1 597.6,1219.2 601.0,1218.3 604.5,1217.4 608.0,1216.5 611.4,1215.6 614.9,1214.7 618.4,1213.8 621.9,1213.0 625.3,1212.1 628.8,1211.2 632.3,1210.4 635.7,1209.6 639.2,1208.7 642.7,1207.9 646.1,1207.1 649.6,1206.3 653.1,1205.5 656.5,1204.7 660.0,1203.9 663.5,1203.2 666.9,1202.4 670.4,1201.6 673.9,1200.9 677.3,1200.1 680.8,1199.4 684.3,1198.7 687.7,1197.9 691.2,1197.2 694.7,1196.5 698.1,1195.8 701.6,1195.1 705.1,1194.4 708.5,1193.7 712.0,1193.0 715.5,1192.3 719.0,1191.6 722.4,1191.0 725.9,1190.3 729.4,1189.6 732.8,1189.0 736.3,1188.3 739.8,1187.7 743.2,1187.0 746.7,1186.4 750.2,1185.8 753.6,1185.1 757.1,1184.5 760.6,1183.9 764.0,1183.3 767.5,1182.7 771.0,1182.1 774.4,1181.5 777.9,1180.9 781.4,1180.3 784.8,1179.7 788.3,1179.1 791.8,1178.5 795.2,1178.0 798.7,1177.4 802.2,1176.8 805.7,1176.3 809.1,1175.7 812.6,1175.2 816.1,1174.6 819.5,1174.1 823.0,1173.5 826.5,1173.0 829.9,1172.4 833.4,1171.9 836.9,1171.4 840.3,1170.9 843.8,1170.3 847.3,1169.8 850.7,1169.3 854.2,1168.8 857.7,1168.3 861.1,1167.8 864.6,1167.3 868.1,1166.8 871.5,1166.3 875.0,1165.8 878.5,1165.3 881.9,1164.8 885.4,1164.4 888.9,1163.9 892.3,1163.4 895.8,1162.9 899.3,1162.5 902.8,1162.0 906.2,1161.5 909.7,1161.1 913.2,1160.6 916.6,1160.2 920.1,1159.7 923.6,1159.3 927.0,1158.8 930.5,1158.4 934.0,1157.9 937.4,1157.5 940.9,1157.1 944.4,1156.6 947.8,1156.2 951.3,1155.8 954.8,1155.3 958.2,1154.9 961.7,1154.5 965.2,1154.1 968.6,1153.7 972.1,1153.2 975.6,1152.8 979.0,1152.4 982.5,1152.0 986.0,1151.6 989.4,1151.2 992.9,1150.8 996.4,1150.4 999.9,1150.0 1003.3,1149.6 1006.8,1149.2 1010.3,1148.9 1013.7,1148.5 1017.2,1148.1 1020.7,1147.7 1024.1,1147.3 1027.6,1147.0 1031.1,1146.6 1034.5,1146.2 1038.0,1145.8 1041.5,1145.5 1044.9,1145.1 1048.4,1144.7 1051.9,1144.4 1055.3,1144.0 1058.8,1143.7 1062.3,1143.3 1065.7,1142.9 1069.2,1142.6 1072.7,1142.2 1076.1,1141.9 1079.6,1141.5 1083.1,1141.2 1086.5,1140.9 1090.0,1140.5 1093.5,1140.2 1097.0,1139.8 1100.4,1139.5 1103.9,1139.2 1107.4,1138.8 1110.8,1138.5 1114.3,1138.2 1117.8,1137.8 1121.2,1137.5 1124.7,1137.2 1128.2,1136.9 1131.6,1136.5 1135.1,1136.2 1138.6,1135.9 1142.0,1135.6 1145.5,1135.3 1149.0,1135.0 1152.4,1134.6 1155.9,1134.3 1159.4,1134.0 1162.8,1133.7 1166.3,1133.4 1169.8,1133.1 1173.2,1132.8 1176.7,1132.5 1180.2,1132.2 1183.6,1131.9 1187.1,1131.6 1190.6,1131.3 1194.1,1131.0 1197.5,1130.7 1201.0,1130.4 1204.5,1130.2 1207.9,1129.9 1211.4,1129.6 1214.9,1129.3 1218.3,1129.0 1221.8,1128.7 1225.3,1128.4 1228.7,1128.2 1232.2,1127.9 1235.7,1127.6 1239.1,1127.3 1242.6,1127.1 1246.1,1126.8 1249.5,1126.5 1253.0,1126.2 1256.5,1126.0 1259.9,1125.7 1263.4,1125.4 1266.9,1125.2 1270.3,1124.9 1273.8,1124.6 1277.3,1124.4 1280.7,1124.1 1284.2,1123.9 1287.7,1123.6 1291.2,1123.3 1294.6,1123.1 1298.1,1122.8 1301.6,1122.6 1305.0,1122.3 1308.5,1122.1 1312.0,1121.8 1315.4,1121.6 1318.9,1121.3 1322.4,1121.1 1325.8,1120.8 1329.3,1120.6 1332.8,1120.3 1336.2,1120.1 1339.7,1119.8 1343.2,1119.6 1346.6,1119.4 1350.1,1119.1 1353.6,1118.9 1357.0,1118.7 1360.5,1118.4 1364.0,1118.2 1367.4,1117.9 1370.9,1117.7 1374.4,1117.5 1377.8,1117.2 1381.3,1117.0 1384.8,1116.8 1388.3,1116.6 1391.7,1116.3 1395.2,1116.1 1398.7,1115.9 1402.1,1115.7 1405.6,1115.4 1409.1,1115.2 1412.5,1115.0 1416.0,1114.8 1419.5,1114.6 1422.9,1114.3 1426.4,1114.1 1429.9,1113.9 1433.3,1113.7 1436.8,1113.5 1440.3,1113.3 1443.7,1113.0 1447.2,1112.8 1450.7,1112.6 1454.1,1112.4 1457.6,1112.2 1461.1,1112.0 1464.5,1111.8 1468.0,1111.6 1471.5,1111.4 1475.0,1111.2 1478.4,1111.0 1481.9,1110.8 1485.4,1110.6 1488.8,1110.4 1492.3,1110.2 1495.8,1109.9 1499.2,1109.8 1502.7,1109.6 1506.2,1109.4 1509.6,1109.2 1513.1,1109.0 1516.6,1108.8 1520.0,1108.6 1523.5,1108.4 1527.0,1108.2 1530.4,1108.0 1533.9,1107.8 1537.4,1107.6 1540.8,1107.4 1544.3,1107.2 1547.8,1107.0 1551.2,1106.8 1554.7,1106.7 1558.2,1106.5 1561.6,1106.3 1565.1,1106.1 1568.6,1105.9 1572.1,1105.7 1575.5,1105.6 1579.0,1105.4 1582.5,1105.2 1585.9,1105.0 1589.4,1104.8 1592.9,1104.6 1596.3,1104.5 1599.8,1104.3 1603.3,1104.1 1606.7,1103.9 1610.2,1103.8 1613.7,1103.6 1617.1,1103.4 1620.6,1103.2 1624.1,1103.1 1627.5,1102.9 1631.0,1102.7 1634.5,1102.5 1637.9,1102.4 1641.4,1102.2 1644.9,1102.0 1648.3,1101.9 1651.8,1101.7 1655.3,1101.5 1658.7,1101.4 1662.2,1101.2 1665.7,1101.0 1669.2,1100.9 1672.6,1100.7 1676.1,1100.5 1679.6,1100.4 1683.0,1100.2 1686.5,1100.0 1690.0,1099.9 1693.4,1099.7 1696.9,1099.6 1700.4,1099.4 1703.8,1099.2 1707.3,1099.1 1710.8,1098.9 1714.2,1098.8 1717.7,1098.6 1721.2,1098.4 1724.6,1098.3 1728.1,1098.1 1731.6,1098.0 1735.0,1097.8 1738.5,1097.7 1742.0,1097.5 1745.4,1097.4 1748.9,1097.2 1752.4,1097.1 1755.8,1096.9 1759.3,1096.8 1762.8,1096.6 1766.3,1096.5 1769.7,1096.3 1773.2,1096.2 1776.7,1096.0 1780.1,1095.9 1783.6,1095.7 1787.1,1095.6 1790.5,1095.4 1794.0,1095.3 1797.5,1095.1 1800.9,1095.0 1804.4,1094.8 1807.9,1094.7 1811.3,1094.6 1814.8,1094.4 1818.3,1094.3 1821.7,1094.1 1825.2,1094.0 1828.7,1093.9 1832.1,1093.7 1835.6,1093.6 1839.1,1093.4 1842.5,1093.3 1846.0,1093.2 1849.5,1093.0 1852.9,1092.9 1856.4,1092.7 1859.9,1092.6 1863.4,1092.5 1866.8,1092.3 1870.3,1092.2 1873.8,1092.1 1877.2,1091.9 1880.7,1091.8 1884.2,1091.7 1887.6,1091.5 1891.1,1091.4 1894.6,1091.3 1898.0,1091.1 1901.5,1091.0 1905.0,1090.9 1908.4,1090.8 1911.9,1090.6 1915.4,1090.5 1918.8,1090.4 1922.3,1090.2 1925.8,1090.1 1929.2,1090.0 1932.7,1089.9 1936.2,1089.7 1939.6,1089.6 1943.1,1089.5 1946.6,1089.3 1950.0,1089.2 1953.5,1089.1 1957.0,1089.0 1960.5,1088.8 1963.9,1088.7 1967.4,1088.6 1970.9,1088.5 1974.3,1088.4 1977.8,1088.2 1981.3,1088.1 1984.7,1088.0 1988.2,1087.9 1991.7,1087.8 1995.1,1087.6 1998.6,1087.5 2002.1,1087.4 2005.5,1087.3 2009.0,1087.2 2012.5,1087.0 2015.9,1086.9 2019.4,1086.8 2022.9,1086.7 2026.3,1086.6 2029.8,1086.5 2033.3,1086.3 2036.7,1086.2 2040.2,1086.1 2043.7,1086.0" fill="none" stroke="#0000ff" stroke-width="4.4" stroke-linejoin="round"/>
</g>
<g id="axes" fill="#000">
<rect x="259.9" y="204" width="6.1" height="1310"/>
<rect x="259.9" y="1506.9" width="1987.9" height="7.1"/>
<rect x="247" y="1507.0" width="14" height="6"/>
<rect x="247" y="1376.7" width="14" height="6"/>
<rect x="247" y="1246.4" width="14" height="6"/>
<rect x="247" y="1116.1" width="14" height="6"/>
<rect x="247" y="985.8" width="14" height="6"/>
<rect x="247" y="855.5" width="14" height="6"/>
<rect x="247" y="725.2" width="14" height="6"/>
<rect x="247" y="594.9" width="14" height="6"/>
<rect x="247" y="464.6" width="14" height="6"/>
<rect x="247" y="334.3" width="14" height="6"/>
<rect x="247" y="204.0" width="14" height="6"/>
<rect x="456.8" y="1513" width="5.4" height="14"/>
<rect x="655.2" y="1513" width="5.4" height="14"/>
<rect x="853.6" y="1513" width="5.4" height="14"/>
<rect x="1051.9" y="1513" width="5.4" height="14"/>
<rect x="1250.3" y="1513" width="5.4" height="14"/>
<rect x="1448.7" y="1513" width="5.4" height="14"/>
<rect x="1647.1" y="1513" width="5.4" height="14"/>
<rect x="1845.5" y="1513" width="5.4" height="14"/>
<rect x="2043.9" y="1513" width="5.4" height="14"/>
<rect x="2242.2" y="1513" width="5.4" height="14"/>
</g>
<g id="markers">
<path d="M262.00,1530.50 L282.35,1489.50 L241.65,1489.50Z M262.00,1519.25 L274.29,1494.50 L249.71,1494.50Z" fill="#008000" fill-rule="evenodd"/>
<path d="M278.52,1530.50 L298.87,1489.50 L258.17,1489.50Z M278.52,1519.25 L290.81,1494.50 L266.23,1494.50Z" fill="#008000" fill-rule="evenodd"/>
<path d="M295.04,1530.50 L315.39,1489.50 L274.69,1489.50Z M295.04,1519.25 L307.33,1494.50 L282.75,1494.50Z" fill="#008000" fill-rule="evenodd"/>
<path d="M311.56,1519.42 L331.91,1478.42 L291.21,1478.42Z M311.56,1508.18 L323.85,1483.42 L299.27,1483.42Z" fill="#008000" fill-rule="evenodd"/>
<path d="M361.12,1465.35 L381.47,1424.35 L340.77,1424.35Z M361.12,1454.10 L373.41,1429.35 L348.83,1429.35Z" fill="#008000" fill-rule="evenodd"/>
<path d="M410.68,1405.41 L431.03,1364.41 L390.33,1364.41Z M410.68,1394.17 L422.97,1369.41 L398.39,1369.41Z" fill="#008000" fill-rule="evenodd"/>
<path d="M442.9,1299.6H477.5M442.9,1340.0H477.5" fill="none" stroke="#008000" stroke-width="4.4"/>
<path d="M460.24,1340.26 L480.59,1299.26 L439.89,1299.26Z M460.24,1329.02 L472.53,1304.26 L447.95,1304.26Z" fill="#008000" fill-rule="evenodd"/>
<path d="M559.36,1265.99 L579.71,1224.99 L539.01,1224.99Z M559.36,1254.74 L571.65,1229.99 L547.07,1229.99Z" fill="#008000" fill-rule="evenodd"/>
<path d="M658.48,1234.72 L678.83,1193.72 L638.13,1193.72Z M658.48,1223.47 L670.77,1198.72 L646.19,1198.72Z" fill="#008000" fill-rule="evenodd"/>
<path d="M757.60,1203.97 L777.95,1162.97 L737.25,1162.97Z M757.60,1192.72 L769.89,1167.97 L745.31,1167.97Z" fill="#008000" fill-rule="evenodd"/>
<path d="M856.72,1183.90 L877.07,1142.90 L836.37,1142.90Z M856.72,1172.66 L869.01,1147.90 L844.43,1147.90Z" fill="#008000" fill-rule="evenodd"/>
<path d="M938.5,1126.0H973.1M938.5,1164.6H973.1" fill="none" stroke="#008000" stroke-width="4.4"/>
<path d="M955.84,1165.79 L976.19,1124.79 L935.49,1124.79Z M955.84,1154.54 L968.13,1129.79 L943.55,1129.79Z" fill="#008000" fill-rule="evenodd"/>
<path d="M1054.96,1148.72 L1075.31,1107.72 L1034.61,1107.72Z M1054.96,1137.47 L1067.25,1112.72 L1042.67,1112.72Z" fill="#008000" fill-rule="evenodd"/>
<path d="M1154.08,1127.87 L1174.43,1086.87 L1133.73,1086.87Z M1154.08,1116.63 L1166.37,1091.87 L1141.79,1091.87Z" fill="#008000" fill-rule="evenodd"/>
<path d="M1253.20,1103.12 L1273.55,1062.12 L1232.85,1062.12Z M1253.20,1091.87 L1265.49,1067.12 L1240.91,1067.12Z" fill="#008000" fill-rule="evenodd"/>
<path d="M1335.0,1042.9H1369.6M1335.0,1085.9H1369.6M1352.3,1042.9V1045.9M1352.3,1082.9V1085.9" fill="none" stroke="#008000" stroke-width="4.4"/>
<path d="M1352.32,1084.87 L1372.67,1043.87 L1331.97,1043.87Z M1352.32,1073.63 L1364.61,1048.87 L1340.03,1048.87Z" fill="#008000" fill-rule="evenodd"/>
<path d="M1451.44,1062.72 L1471.79,1021.72 L1431.09,1021.72Z M1451.44,1051.48 L1463.73,1026.72 L1439.15,1026.72Z" fill="#008000" fill-rule="evenodd"/>
<path d="M1550.56,1041.88 L1570.91,1000.88 L1530.21,1000.88Z M1550.56,1030.63 L1562.85,1005.88 L1538.27,1005.88Z" fill="#008000" fill-rule="evenodd"/>
<path d="M1649.68,1027.54 L1670.03,986.54 L1629.33,986.54Z M1649.68,1016.30 L1661.97,991.54 L1637.39,991.54Z" fill="#008000" fill-rule="evenodd"/>
<path d="M1748.80,1019.72 L1769.15,978.72 L1728.45,978.72Z M1748.80,1008.48 L1761.09,983.72 L1736.51,983.72Z" fill="#008000" fill-rule="evenodd"/>
<path d="M1847.92,1008.00 L1868.27,967.00 L1827.57,967.00Z M1847.92,996.75 L1860.21,972.00 L1835.63,972.00Z" fill="#008000" fill-rule="evenodd"/>
<path d="M1947.04,997.96 L1967.39,956.96 L1926.69,956.96Z M1947.04,986.72 L1959.33,961.96 L1934.75,961.96Z" fill="#008000" fill-rule="evenodd"/>
<path d="M2046.16,983.24 L2066.51,942.24 L2025.81,942.24Z M2046.16,971.99 L2058.45,947.24 L2033.87,947.24Z" fill="#008000" fill-rule="evenodd"/>
<path d="M262.00,1489.50 L282.35,1530.50 L241.65,1530.50Z M262.00,1500.75 L274.29,1525.50 L249.71,1525.50Z" fill="#000000" fill-rule="evenodd"/>
<path d="M278.52,1489.50 L298.87,1530.50 L258.17,1530.50Z M278.52,1500.75 L290.81,1525.50 L266.23,1525.50Z" fill="#000000" fill-rule="evenodd"/>
<path d="M295.04,1489.50 L315.39,1530.50 L274.69,1530.50Z M295.04,1500.75 L307.33,1525.50 L282.75,1525.50Z" fill="#000000" fill-rule="evenodd"/>
<path d="M311.56,1489.50 L331.91,1530.50 L291.21,1530.50Z M311.56,1500.75 L323.85,1525.50 L299.27,1525.50Z" fill="#000000" fill-rule="evenodd"/>
<path d="M361.12,1398.55 L381.47,1439.55 L340.77,1439.55Z M361.12,1409.80 L373.41,1434.55 L348.83,1434.55Z" fill="#000000" fill-rule="evenodd"/>
<path d="M410.68,1273.85 L431.03,1314.85 L390.33,1314.85Z M410.68,1285.10 L422.97,1309.85 L398.39,1309.85Z" fill="#000000" fill-rule="evenodd"/>
<path d="M460.24,1215.87 L480.59,1256.87 L439.89,1256.87Z M460.24,1227.12 L472.53,1251.87 L447.95,1251.87Z" fill="#000000" fill-rule="evenodd"/>
<path d="M559.36,1164.53 L579.71,1205.53 L539.01,1205.53Z M559.36,1175.78 L571.65,1200.53 L547.07,1200.53Z" fill="#000000" fill-rule="evenodd"/>
<path d="M641.2,1123.5H675.8M641.2,1177.2H675.8M658.5,1123.5V1131.9M658.5,1168.9V1177.2" fill="none" stroke="#000000" stroke-width="4.4"/>
<path d="M658.48,1129.87 L678.83,1170.87 L638.13,1170.87Z M658.48,1141.12 L670.77,1165.87 L646.19,1165.87Z" fill="#000000" fill-rule="evenodd"/>
<path d="M757.60,1118.14 L777.95,1159.14 L737.25,1159.14Z M757.60,1129.39 L769.89,1154.14 L745.31,1154.14Z" fill="#000000" fill-rule="evenodd"/>
<path d="M856.72,1097.95 L877.07,1138.95 L836.37,1138.95Z M856.72,1109.19 L869.01,1133.95 L844.43,1133.95Z" fill="#000000" fill-rule="evenodd"/>
<path d="M955.84,1071.76 L976.19,1112.76 L935.49,1112.76Z M955.84,1083.00 L968.13,1107.76 L943.55,1107.76Z" fill="#000000" fill-rule="evenodd"/>
<path d="M1054.96,1076.45 L1075.31,1117.45 L1034.61,1117.45Z M1054.96,1087.70 L1067.25,1112.45 L1042.67,1112.45Z" fill="#000000" fill-rule="evenodd"/>
<path d="M1154.08,1068.63 L1174.43,1109.63 L1133.73,1109.63Z M1154.08,1079.88 L1166.37,1104.63 L1141.79,1104.63Z" fill="#000000" fill-rule="evenodd"/>
<path d="M1253.20,1065.37 L1273.55,1106.37 L1232.85,1106.37Z M1253.20,1076.62 L1265.49,1101.37 L1240.91,1101.37Z" fill="#000000" fill-rule="evenodd"/>
<path d="M1352.32,1041.27 L1372.67,1082.27 L1331.97,1082.27Z M1352.32,1052.51 L1364.61,1077.27 L1340.03,1077.27Z" fill="#000000" fill-rule="evenodd"/>
<path d="M1451.44,1024.33 L1471.79,1065.33 L1431.09,1065.33Z M1451.44,1035.58 L1463.73,1060.33 L1439.15,1060.33Z" fill="#000000" fill-rule="evenodd"/>
<path d="M1550.56,1020.42 L1570.91,1061.42 L1530.21,1061.42Z M1550.56,1031.67 L1562.85,1056.42 L1538.27,1056.42Z" fill="#000000" fill-rule="evenodd"/>
<path d="M1649.68,1003.48 L1670.03,1044.48 L1629.33,1044.48Z M1649.68,1014.73 L1661.97,1039.48 L1637.39,1039.48Z" fill="#000000" fill-rule="evenodd"/>
<path d="M1748.80,983.94 L1769.15,1024.94 L1728.45,1024.94Z M1748.80,995.18 L1761.09,1019.94 L1736.51,1019.94Z" fill="#000000" fill-rule="evenodd"/>
<path d="M1847.92,978.72 L1868.27,1019.72 L1827.57,1019.72Z M1847.92,989.97 L1860.21,1014.72 L1835.63,1014.72Z" fill="#000000" fill-rule="evenodd"/>
<path d="M1947.04,965.04 L1967.39,1006.04 L1926.69,1006.04Z M1947.04,976.29 L1959.33,1001.04 L1934.75,1001.04Z" fill="#000000" fill-rule="evenodd"/>
<path d="M2046.16,956.96 L2066.51,997.96 L2025.81,997.96Z M2046.16,968.21 L2058.45,992.96 L2033.87,992.96Z" fill="#000000" fill-rule="evenodd"/>
<rect x="244.35" y="1492.35" width="35.30" height="35.30" fill="none" stroke="#a00000" stroke-width="5.3"/>
<rect x="260.87" y="1492.35" width="35.30" height="35.30" fill="none" stroke="#a00000" stroke-width="5.3"/>
<rect x="277.39" y="1492.35" width="35.30" height="35.30" fill="none" stroke="#a00000" stroke-width="5.3"/>
<rect x="293.91" y="1489.22" width="35.30" height="35.30" fill="none" stroke="#a00000" stroke-width="5.3"/>
<rect x="343.47" y="1382.77" width="35.30" height="35.30" fill="none" stroke="#a00000" stroke-width="5.3"/>
<rect x="393.03" y="1258.20" width="35.30" height="35.30" fill="none" stroke="#a00000" stroke-width="5.3"/>
<rect x="442.59" y="1175.72" width="35.30" height="35.30" fill="none" stroke="#a00000" stroke-width="5.3"/>
<rect x="541.71" y="1134.81" width="35.30" height="35.30" fill="none" stroke="#a00000" stroke-width="5.3"/>
<rect x="640.83" y="1119.43" width="35.30" height="35.30" fill="none" stroke="#a00000" stroke-width="5.3"/>
<rect x="739.95" y="1106.66" width="35.30" height="35.30" fill="none" stroke="#a00000" stroke-width="5.3"/>
<rect x="839.07" y="1096.24" width="35.30" height="35.30" fill="none" stroke="#a00000" stroke-width="5.3"/>
<rect x="938.19" y="1081.38" width="35.30" height="35.30" fill="none" stroke="#a00000" stroke-width="5.3"/>
<rect x="1037.31" y="1074.09" width="35.30" height="35.30" fill="none" stroke="#a00000" stroke-width="5.3"/>
<rect x="1136.43" y="1062.36" width="35.30" height="35.30" fill="none" stroke="#a00000" stroke-width="5.3"/>
<rect x="1235.55" y="1055.84" width="35.30" height="35.30" fill="none" stroke="#a00000" stroke-width="5.3"/>
<rect x="1334.67" y="1039.30" width="35.30" height="35.30" fill="none" stroke="#a00000" stroke-width="5.3"/>
<rect x="1433.79" y="999.16" width="35.30" height="35.30" fill="none" stroke="#a00000" stroke-width="5.3"/>
<rect x="1532.91" y="992.91" width="35.30" height="35.30" fill="none" stroke="#a00000" stroke-width="5.3"/>
<rect x="1632.03" y="995.52" width="35.30" height="35.30" fill="none" stroke="#a00000" stroke-width="5.3"/>
<rect x="1731.15" y="987.05" width="35.30" height="35.30" fill="none" stroke="#a00000" stroke-width="5.3"/>
<rect x="1830.27" y="976.75" width="35.30" height="35.30" fill="none" stroke="#a00000" stroke-width="5.3"/>
<rect x="1929.39" y="965.42" width="35.30" height="35.30" fill="none" stroke="#a00000" stroke-width="5.3"/>
<rect x="2028.51" y="940.92" width="35.30" height="35.30" fill="none" stroke="#a00000" stroke-width="5.3"/>
<ellipse cx="262.00" cy="1510.00" rx="17.05" ry="17.55" fill="none" stroke="#0000ff" stroke-width="5.3"/>
<ellipse cx="278.52" cy="1438.20" rx="17.05" ry="17.55" fill="none" stroke="#0000ff" stroke-width="5.3"/>
<ellipse cx="295.04" cy="1405.11" rx="17.05" ry="17.55" fill="none" stroke="#0000ff" stroke-width="5.3"/>
<ellipse cx="311.56" cy="1380.09" rx="17.05" ry="17.55" fill="none" stroke="#0000ff" stroke-width="5.3"/>
<ellipse cx="361.12" cy="1323.54" rx="17.05" ry="17.55" fill="none" stroke="#0000ff" stroke-width="5.3"/>
<ellipse cx="410.68" cy="1281.45" rx="17.05" ry="17.55" fill="none" stroke="#0000ff" stroke-width="5.3"/>
<ellipse cx="460.24" cy="1244.19" rx="17.05" ry="17.55" fill="none" stroke="#0000ff" stroke-width="5.3"/>
<ellipse cx="559.36" cy="1212.00" rx="17.05" ry="17.55" fill="none" stroke="#0000ff" stroke-width="5.3"/>
<ellipse cx="658.48" cy="1197.54" rx="17.05" ry="17.55" fill="none" stroke="#0000ff" stroke-width="5.3"/>
<ellipse cx="757.60" cy="1187.64" rx="17.05" ry="17.55" fill="none" stroke="#0000ff" stroke-width="5.3"/>
<ellipse cx="856.72" cy="1176.95" rx="17.05" ry="17.55" fill="none" stroke="#0000ff" stroke-width="5.3"/>
<ellipse cx="955.84" cy="1168.87" rx="17.05" ry="17.55" fill="none" stroke="#0000ff" stroke-width="5.3"/>
<ellipse cx="1054.96" cy="1155.58" rx="17.05" ry="17.55" fill="none" stroke="#0000ff" stroke-width="5.3"/>
<ellipse cx="1154.08" cy="1145.42" rx="17.05" ry="17.55" fill="none" stroke="#0000ff" stroke-width="5.3"/>
<ellipse cx="1253.20" cy="1138.64" rx="17.05" ry="17.55" fill="none" stroke="#0000ff" stroke-width="5.3"/>
<ellipse cx="1352.32" cy="1127.44" rx="17.05" ry="17.55" fill="none" stroke="#0000ff" stroke-width="5.3"/>
<ellipse cx="1451.44" cy="1119.36" rx="17.05" ry="17.55" fill="none" stroke="#0000ff" stroke-width="5.3"/>
<ellipse cx="1550.56" cy="1110.24" rx="17.05" ry="17.55" fill="none" stroke="#0000ff" stroke-width="5.3"/>
<ellipse cx="1649.68" cy="1100.86" rx="17.05" ry="17.55" fill="none" stroke="#0000ff" stroke-width="5.3"/>
<ellipse cx="1748.80" cy="1097.73" rx="17.05" ry="17.55" fill="none" stroke="#0000ff" stroke-width="5.3"/>
<ellipse cx="1847.92" cy="1087.31" rx="17.05" ry="17.55" fill="none" stroke="#0000ff" stroke-width="5.3"/>
<ellipse cx="1947.04" cy="1076.23" rx="17.05" ry="17.55" fill="none" stroke="#0000ff" stroke-width="5.3"/>
<ellipse cx="2046.16" cy="1066.72" rx="17.05" ry="17.55" fill="none" stroke="#0000ff" stroke-width="5.3"/>
</g>
<g id="legend">
<rect x="1773.4" y="520.95" width="60.2" height="5.3" fill="#0000ff"/>
<rect x="1773.5" y="587.55" width="62.3" height="5.3" fill="#a00000"/>
<rect x="1773.5" y="665.15" width="62.3" height="5.3" fill="#000000"/>
<rect x="1773.5" y="742.35" width="62.3" height="5.3" fill="#008000"/>
<rect x="1773.5" y="820.85" width="62.3" height="5.3" fill="#000000"/>
<ellipse cx="1803.60" cy="524.60" rx="17.05" ry="17.55" fill="none" stroke="#0000ff" stroke-width="5.3"/>
<rect x="1787.05" y="572.55" width="35.30" height="35.30" fill="none" stroke="#a00000" stroke-width="5.3"/>
<path d="M1804.70,646.00 L1825.05,687.00 L1784.35,687.00Z M1804.70,657.25 L1816.99,682.00 L1792.41,682.00Z" fill="#000000" fill-rule="evenodd"/>
<path d="M1804.70,766.20 L1825.05,725.20 L1784.35,725.20Z M1804.70,754.95 L1816.99,730.20 L1792.41,730.20Z" fill="#008000" fill-rule="evenodd"/>
</g>
<g id="labels">
<text id="title" transform="translate(1023.47,133.00) scale(0.9744,1.0000)" font-size="57.0" font-weight="bold" text-anchor="start">F1 - PVA - alcohol</text>
<text id="xlabel" transform="translate(1099.94,1647.20) scale(0.9599,1.0000)" font-size="64" font-weight="bold" text-anchor="start">Time (min)</text>
<text id="ylabel" transform="translate(137.90,1256.01) rotate(-90) scale(0.9491,1.0000)" font-size="65" font-weight="bold" text-anchor="start">Released amount of TH (%)</text>
<text id="yt0" transform="translate(240.60,1524.30) scale(0.9720,1.0000)" font-size="44.8" font-weight="bold" text-anchor="end">0</text>
<text id="yt10" transform="translate(240.60,1394.00) scale(0.9720,1.0000)" font-size="44.8" font-weight="bold" text-anchor="end">10</text>
<text id="yt20" transform="translate(240.60,1263.70) scale(0.9720,1.0000)" font-size="44.8" font-weight="bold" text-anchor="end">20</text>
<text id="yt30" transform="translate(240.60,1133.40) scale(0.9720,1.0000)" font-size="44.8" font-weight="bold" text-anchor="end">30</text>
<text id="yt40" transform="translate(240.60,1003.10) scale(0.9720,1.0000)" font-size="44.8" font-weight="bold" text-anchor="end">40</text>
<text id="yt50" transform="translate(240.60,872.80) scale(0.9720,1.0000)" font-size="44.8" font-weight="bold" text-anchor="end">50</text>
<text id="yt60" transform="translate(240.60,742.50) scale(0.9720,1.0000)" font-size="44.8" font-weight="bold" text-anchor="end">60</text>
<text id="yt70" transform="translate(240.60,612.20) scale(0.9720,1.0000)" font-size="44.8" font-weight="bold" text-anchor="end">70</text>
<text id="yt80" transform="translate(240.60,481.90) scale(0.9720,1.0000)" font-size="44.8" font-weight="bold" text-anchor="end">80</text>
<text id="yt90" transform="translate(240.60,351.60) scale(0.9720,1.0000)" font-size="44.8" font-weight="bold" text-anchor="end">90</text>
<text id="yt100" transform="translate(240.60,221.30) scale(0.9720,1.0000)" font-size="44.8" font-weight="bold" text-anchor="end">100</text>
<text id="xt0" transform="translate(261.50,1574.20) scale(0.9720,1.0000)" font-size="44.8" font-weight="bold" text-anchor="middle">0</text>
<text id="xt120" transform="translate(459.88,1574.20) scale(0.9720,1.0000)" font-size="44.8" font-weight="bold" text-anchor="middle">120</text>
<text id="xt240" transform="translate(658.27,1574.20) scale(0.9720,1.0000)" font-size="44.8" font-weight="bold" text-anchor="middle">240</text>
<text id="xt360" transform="translate(856.65,1574.20) scale(0.9720,1.0000)" font-size="44.8" font-weight="bold" text-anchor="middle">360</text>
<text id="xt480" transform="translate(1055.04,1574.20) scale(0.9720,1.0000)" font-size="44.8" font-weight="bold" text-anchor="middle">480</text>
<text id="xt600" transform="translate(1253.42,1574.20) scale(0.9720,1.0000)" font-size="44.8" font-weight="bold" text-anchor="middle">600</text>
<text id="xt720" transform="translate(1451.80,1574.20) scale(0.9720,1.0000)" font-size="44.8" font-weight="bold" text-anchor="middle">720</text>
<text id="xt840" transform="translate(1650.19,1574.20) scale(0.9720,1.0000)" font-size="44.8" font-weight="bold" text-anchor="middle">840</text>
<text id="xt960" transform="translate(1848.57,1574.20) scale(0.9720,1.0000)" font-size="44.8" font-weight="bold" text-anchor="middle">960</text>
<text id="xt1080" transform="translate(2046.96,1574.20) scale(0.9720,1.0000)" font-size="44.8" font-weight="bold" text-anchor="middle">1080</text>
<text id="xt1200" transform="translate(2245.34,1574.20) scale(0.9720,1.0000)" font-size="44.8" font-weight="bold" text-anchor="middle">1200</text>
<text id="leg0" transform="translate(1869.00,540.00) scale(0.9958,1.0000)" font-size="47.5" font-weight="normal" text-anchor="start" style="font-kerning:none">Without coating</text>
<text id="leg1" transform="translate(1867.71,604.90) scale(1.0372,1.0000)" font-size="47.5" font-weight="normal" text-anchor="start" style="font-kerning:none">PVA I</text>
<text id="leg2" transform="translate(1867.73,684.30) scale(1.0360,1.0000)" font-size="47.5" font-weight="normal" text-anchor="start" style="font-kerning:none">PVA II</text>
<text id="leg3" transform="translate(1867.67,761.00) scale(1.0538,1.0000)" font-size="47.5" font-weight="normal" text-anchor="start" style="font-kerning:none">PVA III</text>
<text id="leg4" transform="translate(1869.98,839.20) scale(0.9953,1.0000)" font-size="47.5" font-weight="normal" text-anchor="start" style="font-kerning:none">Weibull</text>
</g>
</svg></body></html>
